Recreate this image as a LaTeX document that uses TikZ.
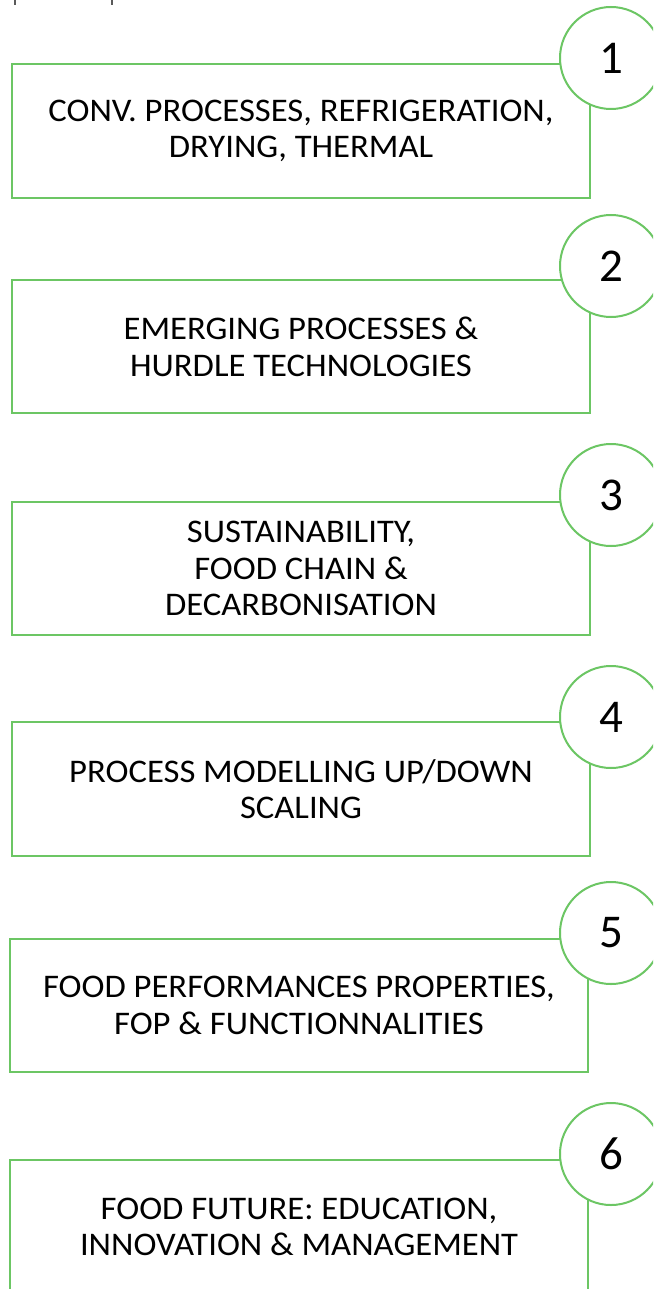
\documentclass[tikz,border=0pt]{standalone}
\usepackage{fontspec}
\setmainfont{Carlito}[FakeStretch=1.05]
\newfontfamily\numfont{Carlito}
\definecolor{boxgreen}{RGB}{108,198,100}
\definecolor{markgray}{RGB}{90,90,90}
\tikzset{
  topicbox/.style={draw=boxgreen, line width=2pt, fill=white, minimum width=578pt, align=center, inner sep=0pt,
    font=\fontsize{33}{36.7}\selectfont},
  numcircle/.style={draw=boxgreen, line width=2pt, fill=white, circle, minimum size=102pt, inner sep=0pt,
    font=\numfont\fontsize{47}{47}\selectfont},
  cutmark/.style={draw=markgray, line width=2pt}
}
\begin{document}
\begin{tikzpicture}[x=1pt,y=-1pt]
\useasboundingbox (0,0) rectangle (653,1289);
\clip (0,0) rectangle (653,1289);
\fill[white] (0,0) rectangle (653,1289);
\draw[cutmark] (15,0) -- (15,5);
\draw[cutmark] (112,0) -- (112,5);

\node[topicbox, minimum height=134pt] (b1) at (301,131) {CONV. PROCESSES, REFRIGERATION,\\DRYING, THERMAL};
\node[topicbox, minimum height=133pt] (b2) at (301,346.5) {EMERGING PROCESSES \&\\HURDLE TECHNOLOGIES};
\node[topicbox, minimum height=133pt] (b3) at (301,568.5) {SUSTAINABILITY,\\FOOD CHAIN \&\\DECARBONISATION};
\node[topicbox, minimum height=134pt] (b4) at (301,789) {PROCESS MODELLING UP/DOWN\\SCALING};
\node[topicbox, minimum height=133pt] (b5) at (299,1005.5) {FOOD PERFORMANCES PROPERTIES,\\FOP \& FUNCTIONNALITIES};
\node[topicbox, minimum height=134pt] (b6) at (299,1227) {FOOD FUTURE: EDUCATION,\\INNOVATION \& MANAGEMENT};

\node[numcircle] (c1) at (611,58) {1};
\node[numcircle] (c2) at (611,266) {2};
\node[numcircle] (c3) at (611,495) {3};
\node[numcircle] (c4) at (611,717) {4};
\node[numcircle] (c5) at (611,933) {5};
\node[numcircle] (c6) at (611,1154) {6};
\end{tikzpicture}
\end{document}
